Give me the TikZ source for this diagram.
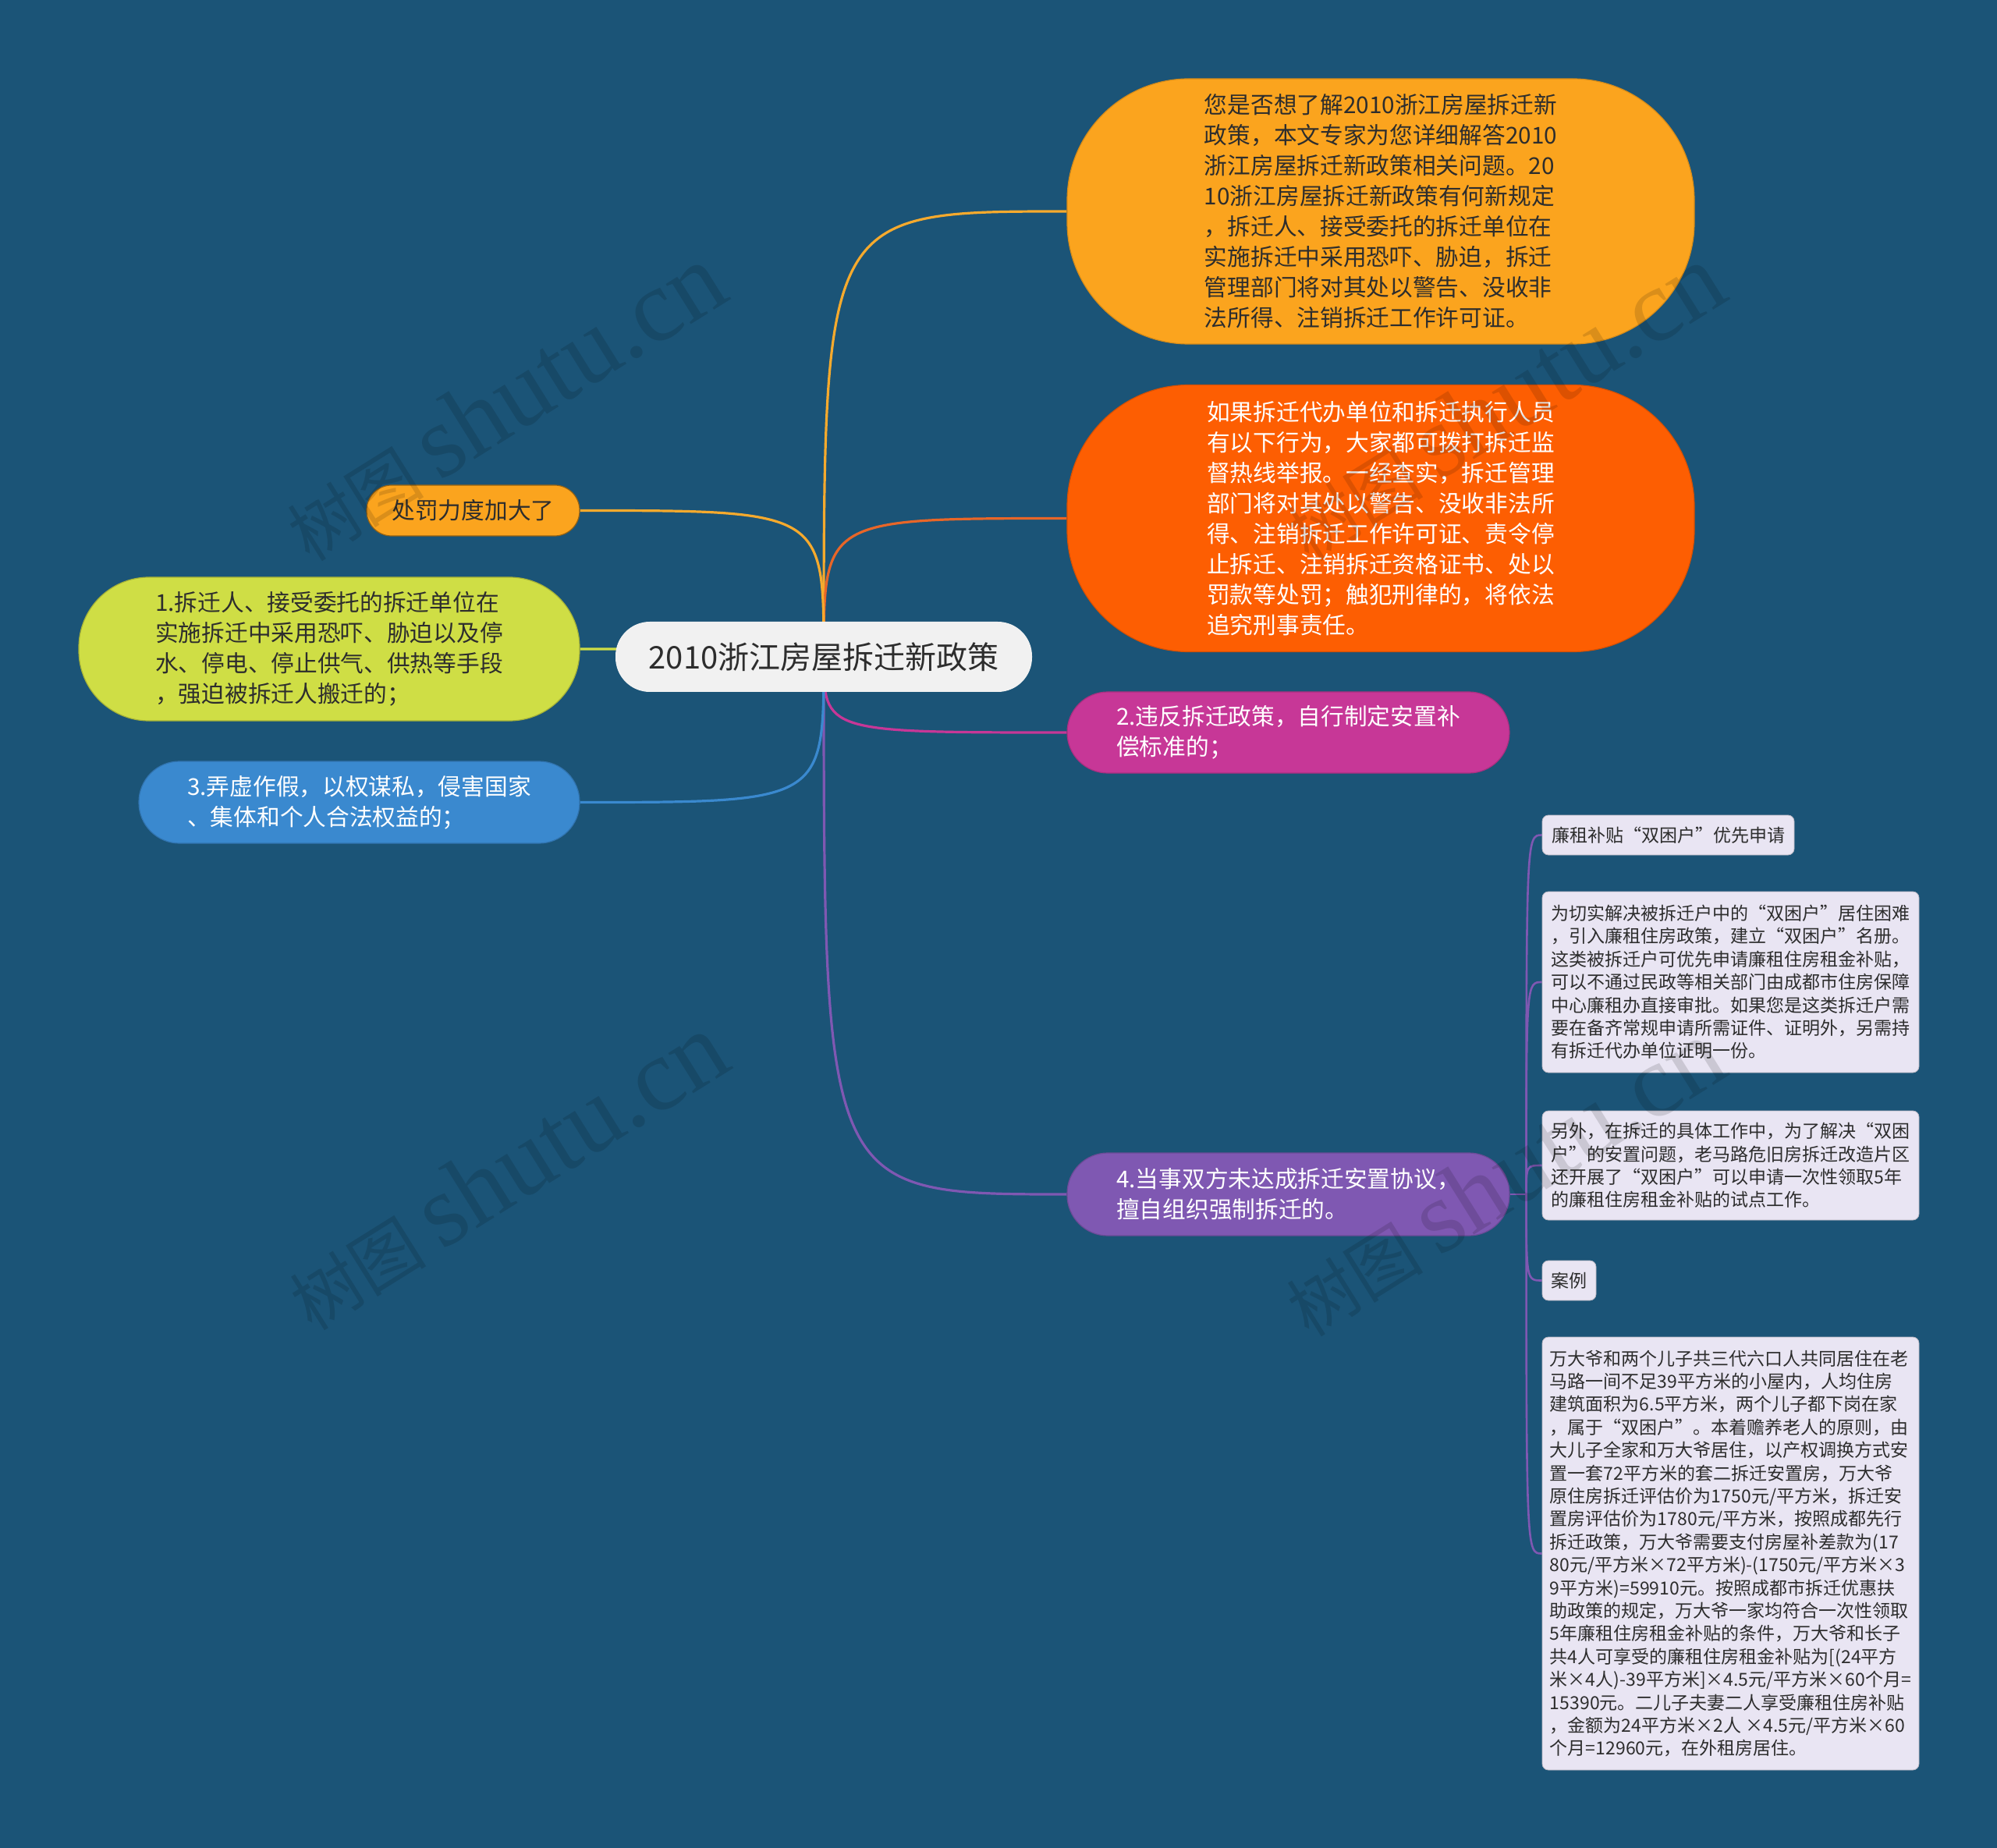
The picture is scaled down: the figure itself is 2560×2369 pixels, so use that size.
\documentclass[tikz,border=0pt]{standalone}
\usepackage{fontspec}
\setmainfont{Noto Sans CJK SC}
\newfontfamily\markfont{Liberation Serif}
\usetikzlibrary{calc}

\definecolor{bgblue}{RGB}{27,84,119}
\definecolor{rootgray}{RGB}{241,241,241}
\definecolor{darktext}{RGB}{45,45,45}
\definecolor{topicorange}{RGB}{251,164,30}
\definecolor{topicred}{RGB}{253,94,2}
\definecolor{topicgreen}{RGB}{207,222,69}
\definecolor{topicblue}{RGB}{58,137,207}
\definecolor{topicpink}{RGB}{199,55,151}
\definecolor{topicpurple}{RGB}{127,88,178}
\definecolor{leaffill}{RGB}{233,229,243}
\definecolor{linkorange}{RGB}{246,170,45}
\definecolor{linkred}{RGB}{232,102,40}

\pgfdeclarelayer{lines}
\pgfsetlayers{lines,main}

\tikzset{
  root/.style={fill=rootgray, rounded corners=22pt, text=darktext,
    minimum width=267pt, minimum height=45pt, inner sep=0pt,
    font=\fontsize{20}{24}\selectfont},
  topic/.style={align=left, inner sep=0pt, line width=0.6pt,
    font=\fontsize{14.85}{19.5}\selectfont},
  leaf/.style={fill=leaffill, draw=leaffill!80!black, line width=0.4pt,
    rounded corners=4pt, align=left, inner sep=0pt, text=darktext,
    font=\fontsize{11.5}{14.7}\selectfont},
  link/.style={line width=1.6pt},
  sublink/.style={line width=1.3pt, draw=topicpurple},
  watermark/.style={black, opacity=0.13, rotate=32, inner sep=0pt}
}

\begin{document}
\begin{tikzpicture}[x=0.5pt, y=-0.5pt]
  \useasboundingbox (0,0) rectangle (2560,2369);

  % centre
  \node[root] (root) at (1056,842) {2010浙江房屋拆迁新政策};

  % right side
  \node[topic, fill=topicorange, draw=topicorange!85!black, text=darktext,
        rounded corners=78pt, minimum width=402pt, minimum height=170pt]
        (intro) at (1770,271) {您是否想了解2010浙江房屋拆迁新\\
        政策，本文专家为您详细解答2010\\
        浙江房屋拆迁新政策相关问题。20\\
        10浙江房屋拆迁新政策有何新规定\\
        ，拆迁人、接受委托的拆迁单位在\\
        实施拆迁中采用恐吓、胁迫，拆迁\\
        管理部门将对其处以警告、没收非\\
        法所得、注销拆迁工作许可证。};
  \node[topic, fill=topicred, draw=topicred!85!black, text=white,
        rounded corners=78pt, minimum width=402pt, minimum height=171pt]
        (report) at (1770,664.5) {如果拆迁代办单位和拆迁执行人员\\
        有以下行为，大家都可拨打拆迁监\\
        督热线举报。一经查实，拆迁管理\\
        部门将对其处以警告、没收非法所\\
        得、注销拆迁工作许可证、责令停\\
        止拆迁、注销拆迁资格证书、处以\\
        罚款等处罚；触犯刑律的，将依法\\
        追究刑事责任。};
  \node[topic, fill=topicpink, draw=topicpink!85!black, text=white,
        rounded corners=26pt, minimum width=283.5pt, minimum height=52pt]
        (selfrule) at (1651.5,939) {2.违反拆迁政策，自行制定安置补\\
        偿标准的；};
  \node[topic, fill=topicpurple, draw=topicpurple!85!black, text=white,
        rounded corners=26pt, minimum width=283.5pt, minimum height=53pt]
        (forced) at (1651.5,1531) {4.当事双方未达成拆迁安置协议，\\
        擅自组织强制拆迁的。};

  % left side
  \node[topic, fill=topicorange, draw=topicorange!60!black, text=darktext,
        rounded corners=16pt, minimum width=136.5pt, minimum height=32.5pt]
        (punish) at (606.5,654.5) {处罚力度加大了};
  \node[topic, fill=topicgreen, draw=topicgreen!80!black, text=darktext,
        rounded corners=45pt, minimum width=321pt, minimum height=92pt]
        (coerce) at (422,832) {1.拆迁人、接受委托的拆迁单位在\\
        实施拆迁中采用恐吓、胁迫以及停\\
        水、停电、停止供气、供热等手段\\
        ，强迫被拆迁人搬迁的；};
  \node[topic, fill=topicblue, draw=topicblue!85!black, text=white,
        rounded corners=26pt, minimum width=282.5pt, minimum height=52.5pt]
        (abuse) at (460.5,1028.5) {3.弄虚作假，以权谋私，侵害国家\\
        、集体和个人合法权益的；};

  % leaves of 4.
  \node[leaf, minimum width=161.5pt, minimum height=25.5pt]
        (subsidy) at (2138.5,1070.5) {廉租补贴“双困户”优先申请};
  \node[leaf, minimum width=241.5pt, minimum height=116pt]
        (needy) at (2218.5,1259) {为切实解决被拆迁户中的“双困户”居住困难\\
        ，引入廉租住房政策，建立“双困户”名册。\\
        这类被拆迁户可优先申请廉租住房租金补贴，\\
        可以不通过民政等相关部门由成都市住房保障\\
        中心廉租办直接审批。如果您是这类拆迁户需\\
        要在备齐常规申请所需证件、证明外，另需持\\
        有拆迁代办单位证明一份。};
  \node[leaf, minimum width=241.5pt, minimum height=70pt]
        (pilot) at (2218.5,1494) {另外，在拆迁的具体工作中，为了解决“双困\\
        户”的安置问题，老马路危旧房拆迁改造片区\\
        还开展了“双困户”可以申请一次性领取5年\\
        的廉租住房租金补贴的试点工作。};
  \node[leaf, minimum width=34.5pt, minimum height=25.5pt]
        (casehead) at (2011.5,1641.5) {案例};
  \node[leaf, minimum width=241.5pt, minimum height=277.5pt]
        (casetext) at (2218.5,1991.5) {万大爷和两个儿子共三代六口人共同居住在老\\
        马路一间不足39平方米的小屋内，人均住房\\
        建筑面积为6.5平方米，两个儿子都下岗在家\\
        ，属于“双困户”。本着赡养老人的原则，由\\
        大儿子全家和万大爷居住，以产权调换方式安\\
        置一套72平方米的套二拆迁安置房，万大爷\\
        原住房拆迁评估价为1750元/平方米，拆迁安\\
        置房评估价为1780元/平方米，按照成都先行\\
        拆迁政策，万大爷需要支付房屋补差款为(17\\
        80元/平方米×72平方米)-(1750元/平方米×3\\
        9平方米)=59910元。按照成都市拆迁优惠扶\\
        助政策的规定，万大爷一家均符合一次性领取\\
        5年廉租住房租金补贴的条件，万大爷和长子\\
        共4人可享受的廉租住房租金补贴为[(24平方\\
        米×4人)-39平方米]×4.5元/平方米×60个月=\\
        15390元。二儿子夫妻二人享受廉租住房补贴\\
        ，金额为24平方米×2人 ×4.5元/平方米×60\\
        个月=12960元，在外租房居住。};

  \coordinate (trunk) at ($(forced.east)+(21,0)$);

  \begin{pgfonlayer}{lines}
    \fill[bgblue] (0,0) rectangle (2560,2369);
    \draw[link, linkorange] (root.center) .. controls (root.center |- intro.west) .. (intro.west);
    \draw[link, linkred] (root.center) .. controls (root.center |- report.west) .. (report.west);
    \draw[link, topicpink] (root.center) .. controls (root.center |- selfrule.west) .. (selfrule.west);
    \draw[link, topicpurple] (root.center) .. controls (root.center |- forced.west) .. (forced.west);
    \draw[link, linkorange] (root.center) .. controls (root.center |- punish.east) .. (punish.east);
    \draw[link, topicgreen] (root.center) .. controls (root.center |- coerce.east) .. (coerce.east);
    \draw[link, topicblue] (root.center) .. controls (root.center |- abuse.east) .. (abuse.east);
    \draw[sublink] (forced.east) -- (trunk);
    \foreach \leafname in {subsidy, needy, pilot, casehead, casetext}
      \draw[sublink] (trunk) .. controls (trunk |- \leafname.west) .. (\leafname.west);
  \end{pgfonlayer}

  % watermarks
  \foreach \mx/\my in {646/516, 649/1502, 1927/516, 1927/1510}
    \node[watermark] at (\mx,\my) {\fontsize{44}{44}\selectfont 树图 \markfont\fontsize{66}{66}\selectfont shutu.cn};
\end{tikzpicture}
\end{document}
